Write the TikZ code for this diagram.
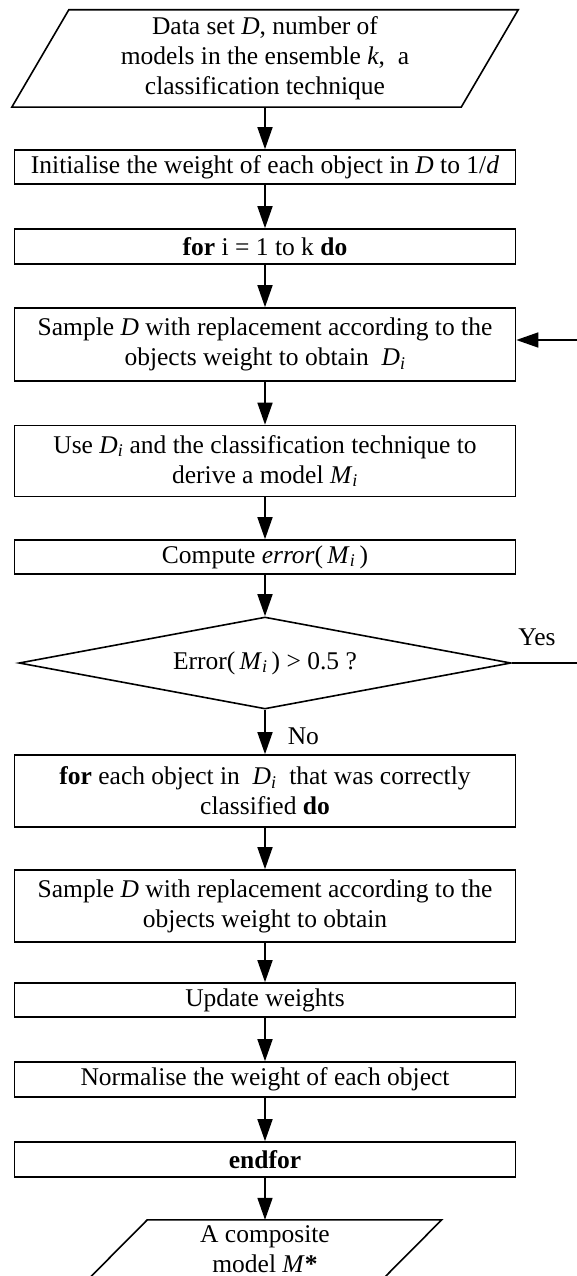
\documentclass[tikz,border=0pt]{standalone}
\usepackage{fontspec}
\setmainfont{Liberation Serif}
\usetikzlibrary{arrows.meta,shapes.geometric}
\begin{document}
\begin{tikzpicture}[x=1pt,y=-1pt,
  txt/.style={font=\fontsize{25.5}{30}\selectfont},
  box/.style={txt, draw, line width=1.6pt, minimum width=501pt, inner sep=0pt, align=center},
  plain/.style={txt, inner sep=0pt, align=center},
  arr/.style={line width=1.6pt, -{Triangle[length=22pt,width=15pt]}},
  ln/.style={line width=1.6pt}]
\clip (0,0) rectangle (577,1276);
% input parallelogram
\node[plain, minimum width=449pt, minimum height=97pt] (in) at (265,58.5)
  {Data set \textit{D}, number of\\models in the ensemble \textit{k},\ \ a\\classification technique};
\draw[ln] ([xshift=28.5pt]in.north west) -- ([xshift=28.5pt]in.north east)
  -- ([xshift=-28.5pt]in.south east) -- ([xshift=-28.5pt]in.south west) -- cycle;
\node[box, minimum height=34pt] (init) at (265,167)
  {Initialise the weight of each object in \textit{D} to 1/\textit{d}};
\node[box, minimum height=35pt] (for) at (265,246.5)
  {\textbf{for} i = 1 to k \textbf{do}};
\node[box, minimum height=73pt] (samp) at (265,344.5)
  {Sample \textit{D} with replacement according to the\\objects weight to obtain\enspace\textit{D}\textsubscript{\textit{i}}};
\node[box, minimum height=71pt] (use) at (265,461)
  {Use \textit{D}\textsubscript{\textit{i}} and the classification technique to\\derive a model \textit{M}\textsubscript{\textit{i}}};
\node[box, minimum height=34pt] (comp) at (265,557)
  {Compute \textit{error}(\,\textit{M}\textsubscript{\textit{i}}\,)};
\node[txt, draw, line width=1.6pt, shape=diamond, shape aspect=5.35, inner sep=0pt,
  minimum width=492pt, minimum height=92pt] (dia) at (265,663)
  {Error(\,\textit{M}\textsubscript{\textit{i}}\,) > 0.5 ?};
\node[box, minimum height=72pt] (each) at (265,791)
  {\textbf{for} each object in\enspace\textit{D}\textsubscript{\textit{i}}\enspace that was correctly\\classified \textbf{do}};
\node[box, minimum height=72pt] (samp2) at (265,906)
  {Sample \textit{D} with replacement according to the\\objects weight to obtain};
\node[box, minimum height=34pt] (upd) at (265,1000) {Update weights};
\node[box, minimum height=35pt] (norm) at (265,1079.5) {Normalise the weight of each object};
\node[box, minimum height=35pt] (endf) at (265,1159.5) {\textbf{endfor}};
% output parallelogram
\node[plain, minimum width=294pt, minimum height=59pt] (out) at (265,1249.5)
  {A composite\\model \textit{M}\textbf{*}};
\draw[ln] ([xshift=29.5pt]out.north west) -- ([xshift=29.5pt]out.north east)
  -- ([xshift=-29.5pt]out.south east) -- ([xshift=-29.5pt]out.south west) -- cycle;
% connectors
\draw[arr] (in.south) -- (init.north);
\draw[arr] (init.south) -- (for.north);
\draw[arr] (for.south) -- (samp.north);
\draw[arr] (samp.south) -- (use.north);
\draw[arr] (use.south) -- (comp.north);
\draw[arr] (comp.south) -- (dia.north);
\draw[arr] (dia.south) -- node[plain, anchor=west, xshift=22pt, yshift=-4pt]{No} (each.north);
\draw[arr] (each.south) -- (samp2.north);
\draw[arr] (samp2.south) -- (upd.north);
\draw[arr] (upd.south) -- (norm.north);
\draw[arr] (norm.south) -- (endf.north);
\draw[arr] (endf.south) -- (out.north);
\coordinate (yesend) at (577,663);
\draw[ln] (dia.east) -- (yesend);
\node[plain] (yes) at (537,637) {Yes};
\coordinate (fb) at (577,340);
\draw[arr] (fb) -- (samp.east |- fb);
\end{tikzpicture}
\end{document}
